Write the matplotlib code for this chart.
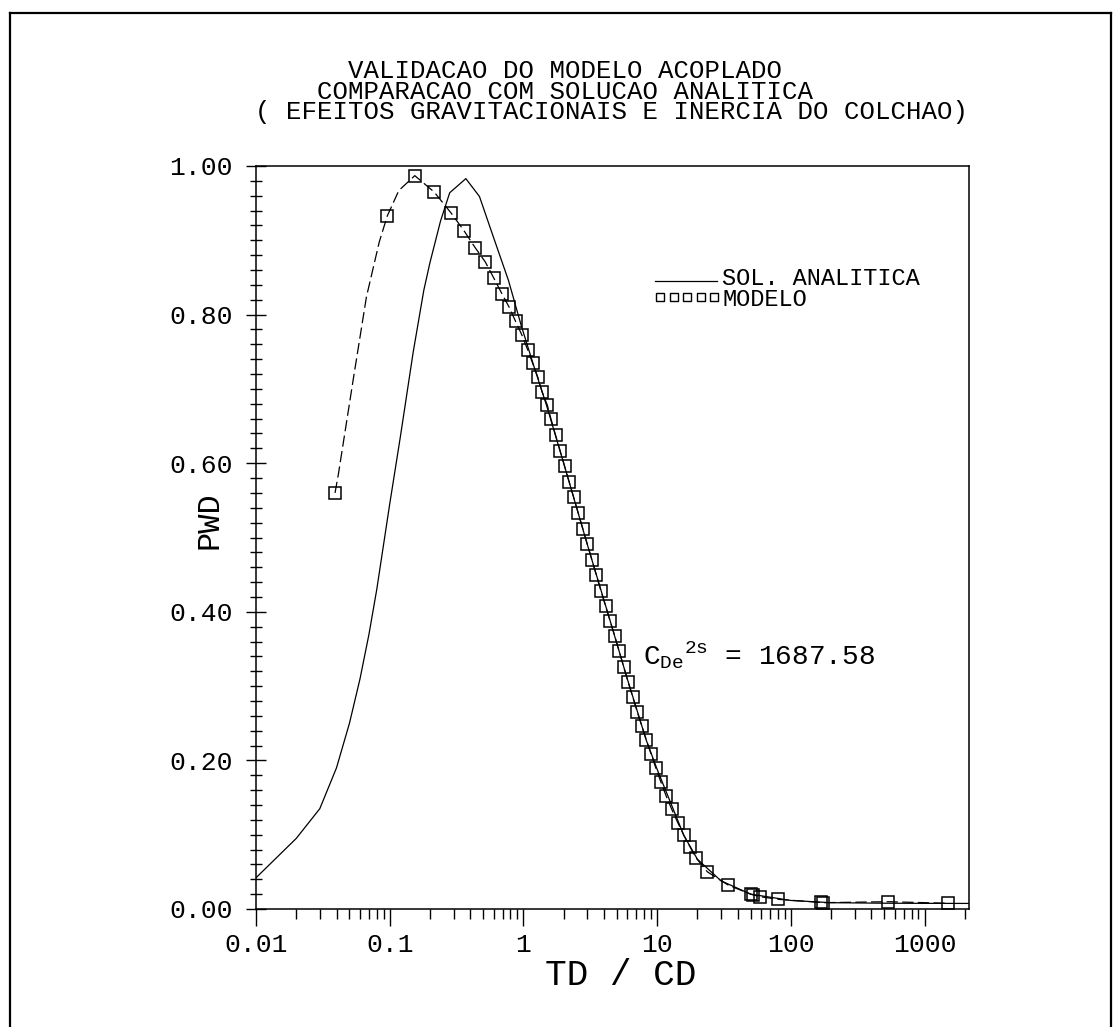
import matplotlib.pyplot as plt
from matplotlib.ticker import FixedLocator, FixedFormatter, NullFormatter
from matplotlib.lines import Line2D

plt.rcParams['font.family'] = 'Liberation Mono'
plt.rcParams['mathtext.fontset'] = 'custom'
plt.rcParams['mathtext.rm'] = 'Liberation Mono'
plt.rcParams['mathtext.it'] = 'Liberation Mono'

# analytic solution (solid line)
sol_td = [0.01, 0.02, 0.03, 0.04, 0.05, 0.06, 0.07, 0.08, 0.1, 0.12, 0.15, 0.18,
          0.2, 0.24, 0.281, 0.371, 0.469, 0.6, 0.773, 0.964, 1.2, 1.5, 2.0, 3.0,
          4.45, 6.0, 8.3, 10.0, 15.85, 20.0, 30.0, 50.0, 100.0, 200.0, 500.0,
          1000.0, 2150.0]
sol_pwd = [0.042, 0.095, 0.135, 0.19, 0.25, 0.31, 0.37, 0.43, 0.545, 0.635, 0.75,
           0.833, 0.87, 0.926, 0.964, 0.983, 0.959, 0.903, 0.846, 0.785, 0.73,
           0.676, 0.600, 0.491, 0.388, 0.309, 0.227, 0.188, 0.099, 0.067, 0.038,
           0.020, 0.0115, 0.0085, 0.0078, 0.0076, 0.0075]

# coupled model (squares)
mod_td = [0.039, 0.096, 0.154, 0.215, 0.287, 0.359, 0.436, 0.518, 0.601, 0.691,
          0.782, 0.873, 0.977, 1.08, 1.17, 1.28, 1.38, 1.51, 1.61, 1.738, 1.879,
          2.032, 2.198, 2.377, 2.570, 2.780, 3.006, 3.251, 3.516, 3.802, 4.111,
          4.446, 4.808, 5.200, 5.623, 6.081, 6.577, 7.112, 7.691, 8.318, 8.995,
          9.772, 10.67, 11.69, 12.88, 14.29, 15.85, 17.58, 19.50, 23.77, 34.12,
          50.1, 52.2, 58.9, 80.7, 167.9, 173.8, 535.8, 1507.0]
mod_pwd = [0.56, 0.933, 0.987, 0.965, 0.937, 0.913, 0.890, 0.871, 0.849, 0.828,
           0.810, 0.791, 0.772, 0.752, 0.735, 0.716, 0.696, 0.678, 0.659, 0.638,
           0.617, 0.596, 0.575, 0.554, 0.533, 0.512, 0.491, 0.470, 0.449, 0.428,
           0.408, 0.388, 0.368, 0.347, 0.326, 0.305, 0.285, 0.265, 0.246, 0.227,
           0.209, 0.190, 0.171, 0.152, 0.134, 0.116, 0.099, 0.084, 0.069, 0.050,
           0.032, 0.020, 0.019, 0.0166, 0.013, 0.0088, 0.0085, 0.0098, 0.0077]

# extra points of the dashed model curve between the first squares
dash_td = [0.0413, 0.0536, 0.067, 0.0836, 0.117]
dash_pwd = [0.585, 0.715, 0.824, 0.898, 0.967]

x_ticks = [0.01, 0.1, 1, 10, 100, 1000]
x_labels = ['0.01', '0.1', '1', '10', '100', '1000']
y_ticks = [0.0, 0.2, 0.4, 0.6, 0.8, 1.0]
y_labels = ['0.00', '0.20', '0.40', '0.60', '0.80', '1.00']

title_lines = ['      VALIDACAO DO MODELO ACOPLADO',
               '    COMPARACAO COM SOLUCAO ANALITICA',
               '( EFEITOS GRAVITACIONAIS E INERCIA DO COLCHAO)']

fig = plt.figure(figsize=(11.14, 10.27), dpi=100)
ax = fig.add_axes([256 / 1114, 1 - 909 / 1027, 713 / 1114, 743 / 1027])

ax.plot(sol_td, sol_pwd, color='black', lw=0.9)

line_pts = sorted(zip(mod_td + dash_td, mod_pwd + dash_pwd))
ax.plot([p[0] for p in line_pts], [p[1] for p in line_pts], color='black',
        lw=0.9, dashes=(9, 3.5))
ax.plot(mod_td, mod_pwd, ls='none', marker='s', ms=8, mfc='none',
        mec='black', mew=1.1)

ax.set_xscale('log')
ax.set_xlim(0.01, 2150)
ax.set_ylim(0, 1)

ax.xaxis.set_major_locator(FixedLocator(x_ticks))
ax.xaxis.set_major_formatter(FixedFormatter(x_labels))
minor = [m * 10.0 ** e for e in range(-2, 4) for m in range(2, 10)]
ax.xaxis.set_minor_locator(FixedLocator(minor))
ax.xaxis.set_minor_formatter(NullFormatter())
ax.yaxis.set_major_locator(FixedLocator(y_ticks))
ax.yaxis.set_major_formatter(FixedFormatter(y_labels))
ax.yaxis.set_minor_locator(FixedLocator([i * 0.02 for i in range(51)]))

ax.tick_params(axis='x', which='major', direction='out', length=12, width=1,
               labelsize=19, pad=5)
ax.tick_params(axis='x', which='minor', direction='out', length=7, width=1)
ax.tick_params(axis='y', which='major', direction='inout', length=14, width=1,
               labelsize=19, pad=10)
ax.tick_params(axis='y', which='minor', direction='inout', length=8, width=1)
for s in ax.spines.values():
    s.set_linewidth(1.1)

# axis labels
fig.text(621 / 1114, 1 - 958 / 1027, 'TD / CD', fontsize=26, ha='center',
         va='top')
fig.text(210 / 1114, 1 - 520 / 1027, 'PWD', fontsize=23, ha='center',
         va='center', rotation=90)

# title, one block of monospaced lines like the plotter output
fig.text(255 / 1114, 1 - 59 / 1027, '\n'.join(title_lines), fontsize=18.5,
         ha='left', va='top', multialignment='left', linespacing=0.82)

# legend drawn by hand
ax.add_line(Line2D([0.560, 0.647], [0.845, 0.845], transform=ax.transAxes,
                   color='black', lw=0.9))
ax.add_line(Line2D([0.567, 0.586, 0.605, 0.624, 0.643], [0.824] * 5,
                   transform=ax.transAxes, color='black', lw=0.9, ls='none',
                   marker='s', ms=6, mfc='none', mew=1))
ax.text(0.654, 0.8345, 'SOL. ANALITICA\nMODELO', transform=ax.transAxes,
        fontsize=17, va='center', ha='left', multialignment='left',
        linespacing=0.92)

ax.text(0.543, 0.342, r'$\mathrm{{C_{De}}^{2s}}$ = 1687.58',
        transform=ax.transAxes, fontsize=20, va='center')

# outer frame of the page
for xs, ys in [([0.009, 0.009], [0.0, 0.987]), ([0.009, 0.997], [0.987, 0.987]),
               ([0.997, 0.997], [0.0, 0.987])]:
    fig.add_artist(Line2D(xs, ys, transform=fig.transFigure, color='black',
                          lw=1.6))

fig.savefig('out.png', dpi=100)
